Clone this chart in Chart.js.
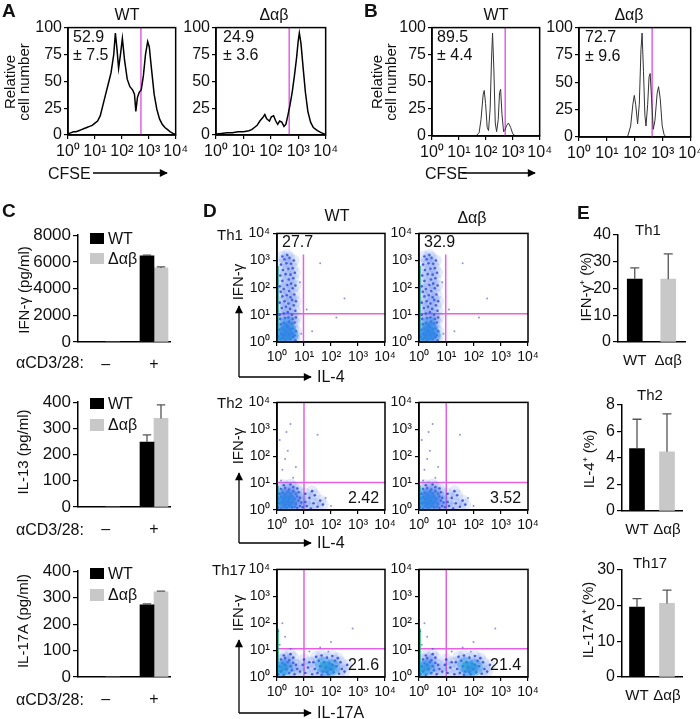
<!DOCTYPE html>
<html>
<head>
<meta charset="utf-8">
<script src="https://cdn.jsdelivr.net/npm/chart.js@4.4.1/dist/chart.umd.min.js"></script>
<style>
  body { margin: 0; background: #fff; }
  #fig { position: relative; width: 700px; height: 719px; overflow: hidden; }
  #fig canvas { position: absolute; }
  #ov { position: absolute; left: 0; top: 0; z-index: 10; pointer-events: none; }
</style>
</head>
<body>
<div id="fig">
<svg id="ov" width="700" height="719" font-family="'Liberation Sans', Arial, sans-serif" fill="#111" font-size="16">
  <defs>
    <marker id="ah" viewBox="0 0 10 10" refX="9" refY="5" markerUnits="userSpaceOnUse" markerWidth="9" markerHeight="8" orient="auto">
      <path d="M0,0 L10,5 L0,10 z" fill="#000"/>
    </marker>
  </defs>
  <g font-weight="bold" font-size="19">
    <text x="2" y="17">A</text>
    <text x="364" y="17">B</text>
    <text x="2" y="217">C</text>
    <text x="203" y="217">D</text>
    <text x="577" y="219">E</text>
  </g>
  <!-- A / B -->
  <g text-anchor="middle">
    <text x="127" y="20">WT</text>
    <text x="274" y="20">Δαβ</text>
    <text x="496" y="20">WT</text>
    <text x="629" y="20">Δαβ</text>
  </g>
  <text x="73" y="42">52.9</text><text x="73" y="60">± 7.5</text>
  <text x="223" y="42">24.9</text><text x="223" y="60">± 3.6</text>
  <text x="437" y="42">89.5</text><text x="437" y="60">± 4.4</text>
  <text x="585" y="42">72.7</text><text x="585" y="61">± 9.6</text>
  <g font-size="15" text-anchor="middle">
    <text transform="translate(15,82) rotate(-90)">Relative</text>
    <text transform="translate(29,82) rotate(-90)">cell number</text>
    <text transform="translate(382,82) rotate(-90)">Relative</text>
    <text transform="translate(396,82) rotate(-90)">cell number</text>
  </g>
  <text x="48" y="179">CFSE</text>
  <text x="425" y="179">CFSE</text>
  <g stroke="#000" stroke-width="1.3" marker-end="url(#ah)">
    <line x1="93" y1="173" x2="167" y2="173"/>
    <line x1="462" y1="173" x2="535" y2="173"/>
  </g>
  <!-- C -->
  <g font-size="15" text-anchor="middle">
    <text transform="translate(29,290) rotate(-90)">IFN-γ (pg/ml)</text>
    <text transform="translate(28,452) rotate(-90)">IL-13 (pg/ml)</text>
    <text transform="translate(28,621) rotate(-90)">IL-17A (pg/ml)</text>
  </g>
  <rect x="90" y="233" width="14" height="11" fill="#000"/><text x="108" y="244">WT</text>
  <rect x="90" y="253" width="14" height="11" fill="#c8c8c8"/><text x="108" y="264">Δαβ</text>
  <rect x="90" y="398" width="14" height="11" fill="#000"/><text x="108" y="409">WT</text>
  <rect x="90" y="419" width="14" height="12" fill="#c8c8c8"/><text x="108" y="430">Δαβ</text>
  <rect x="90" y="568" width="14" height="11" fill="#000"/><text x="108" y="579">WT</text>
  <rect x="90" y="589" width="14" height="12" fill="#c8c8c8"/><text x="108" y="600">Δαβ</text>
  <text x="16" y="368">αCD3/28:</text>
  <text x="16" y="535">αCD3/28:</text>
  <text x="16" y="705">αCD3/28:</text>
  <!-- D -->
  <g text-anchor="middle">
    <text x="337" y="221">WT</text>
    <text x="472" y="223">Δαβ</text>
  </g>
  <g font-size="15">
    <text x="217" y="240">Th1</text>
    <text x="217" y="408">Th2</text>
    <text x="212" y="575">Th17</text>
  </g>
  <text x="282" y="247">27.7</text><text x="424" y="247">32.9</text>
  <text x="348" y="503">2.42</text><text x="490" y="503">3.52</text>
  <text x="348" y="670">21.6</text><text x="490" y="670">21.4</text>
  <g font-size="15" text-anchor="middle">
    <text transform="translate(243,282) rotate(-90)">IFN-γ</text>
    <text transform="translate(243,446) rotate(-90)">IFN-γ</text>
    <text transform="translate(243,613) rotate(-90)">IFN-γ</text>
  </g>
  <g stroke="#000" stroke-width="1.3" marker-end="url(#ah)">
    <line x1="239" y1="377" x2="239" y2="306"/><line x1="239" y1="377" x2="311" y2="377"/>
    <line x1="239" y1="543" x2="239" y2="473"/><line x1="239" y1="543" x2="311" y2="543"/>
    <line x1="239" y1="713" x2="239" y2="640"/><line x1="239" y1="713" x2="311" y2="713"/>
  </g>
  <text x="317" y="382">IL-4</text>
  <text x="317" y="548">IL-4</text>
  <text x="317" y="718">IL-17A</text>
  <!-- E -->
  <g font-size="15" text-anchor="middle">
    <text x="648" y="235">Th1</text>
    <text x="650" y="400">Th2</text>
    <text x="650" y="568">Th17</text>
    <text transform="translate(591,287) rotate(-90)">IFN-γ⁺ (%)</text>
    <text transform="translate(594,459) rotate(-90)">IL-4⁺ (%)</text>
    <text transform="translate(593,620) rotate(-90)">IL-17A⁺ (%)</text>
  </g>
</svg>
</div>
<script>
// ---------- values ----------
const logTicks = [0, 1, 2, 3, 4];
const supDigits = ['⁰', '¹', '²', '³', '⁴'];
const histTicks = [0, 25, 50, 75, 100];

// CFSE histograms: [log10 CFSE, relative cell number]
const cfseA_WT = [[0,1],[0.1,2],[0.2,3],[0.3,3],[0.4,4],[0.5,5],[0.6,6],[0.7,7],[0.8,8],[0.9,9],[1.0,11],
  [1.1,13],[1.2,18],[1.3,28],[1.4,38],[1.5,48],[1.6,58],[1.7,75],[1.76,95],[1.82,80],[1.88,62],[1.95,75],
  [2.02,90],[2.1,70],[2.2,52],[2.3,45],[2.4,42],[2.47,38],[2.52,22],[2.58,35],[2.65,40],[2.72,42],[2.8,55],
  [2.88,75],[2.96,87],[3.02,82],[3.1,62],[3.2,38],[3.3,24],[3.4,15],[3.5,10],[3.6,7],[3.7,5],[3.8,3],[3.9,1.5],[4,0.5]];
const cfseA_KO = [[0,1],[0.2,1.5],[0.4,2],[0.6,2],[0.8,3],[1.0,3],[1.2,4],[1.3,5],[1.4,7],[1.5,9],[1.6,13],
  [1.7,16],[1.78,19],[1.85,15],[1.95,13],[2.02,17],[2.1,18],[2.18,13],[2.25,10],[2.32,13],[2.4,12],[2.48,8],
  [2.55,10],[2.62,18],[2.7,28],[2.78,40],[2.86,55],[2.94,72],[3.0,88],[3.04,95],[3.1,85],[3.18,62],[3.26,40],
  [3.35,22],[3.45,12],[3.55,7],[3.7,4],[3.85,2],[4,0.5]];
const cfseB_WT = [[0,0],[1.5,0],[1.65,0.5],[1.75,3],[1.82,15],[1.9,38],[1.94,42],[1.99,30],[2.05,8],[2.1,5],
  [2.16,25],[2.21,70],[2.25,95],[2.3,60],[2.35,12],[2.4,4],[2.46,15],[2.51,40],[2.55,43],[2.6,20],[2.66,4],
  [2.7,5],[2.78,10],[2.84,12],[2.92,8],[3.0,2],[3.1,0],[4,0]];
const cfseB_KO = [[0,0],[1.7,0],[1.75,1],[1.85,10],[1.93,30],[1.98,38],[2.03,30],[2.1,12],[2.16,30],[2.22,80],
  [2.26,95],[2.31,60],[2.36,20],[2.4,10],[2.46,30],[2.51,55],[2.55,58],[2.6,35],[2.66,7],[2.72,15],[2.8,40],
  [2.85,46],[2.91,35],[2.98,10],[3.05,2],[3.12,0],[4,0]];
const cfseGates = [2.71, 2.67, 2.72, 2.62];   // A WT, A Δαβ, B WT, B Δαβ

// C: cytokines in supernatant (pg/ml)
const cTreatLabels = ['–', '+'];
const cTreatX = [0.3, 0.826];
const ifngWT = [0, 6450], ifngKO = [0, 5550], ifngErrWT = [0, 50], ifngErrKO = [0, 80];
const il13WT = [0, 248], il13KO = [0, 338], il13ErrWT = [0, 27], il13ErrKO = [0, 52];
const il17WT = [0, 273], il17KO = [0, 322], il17ErrWT = [0, 3], il17ErrKO = [0, 3];

// D: dot plots, [log10 x, log10 y]; cloud = main population, sparse = stray events
const th1Cloud = [[0.12,0.1],[0.2,0.15],[0.3,0.08],[0.4,0.12],[0.5,0.1],[0.6,0.18],[0.68,0.06],
  [0.15,0.3],[0.25,0.25],[0.35,0.35],[0.45,0.28],[0.55,0.32],[0.65,0.25],[0.05,0.2],
  [0.1,0.45],[0.2,0.5],[0.3,0.42],[0.4,0.55],[0.5,0.48],[0.6,0.5],[0.7,0.4],
  [0.15,0.65],[0.25,0.7],[0.35,0.62],[0.45,0.75],[0.55,0.68],[0.65,0.72],
  [0.12,0.85],[0.3,0.88],[0.42,0.9],[0.58,0.85],[0.7,0.9],
  [0.1,1.0],[0.25,1.05],[0.4,1.1],[0.55,1.0],[0.68,1.15],
  [0.18,1.25],[0.33,1.3],[0.48,1.22],[0.62,1.35],
  [0.1,1.45],[0.28,1.5],[0.42,1.42],[0.56,1.55],[0.7,1.5],
  [0.2,1.68],[0.36,1.72],[0.5,1.65],[0.64,1.75],[0.14,1.85],[0.45,1.88],
  [0.25,1.95],[0.58,1.98],[0.1,2.05],[0.38,2.1],[0.52,2.15],[0.68,2.08],
  [0.2,2.25],[0.44,2.3],[0.6,2.35],[0.12,2.45],[0.32,2.5],[0.5,2.48],[0.66,2.55],
  [0.22,2.65],[0.42,2.7],[0.58,2.72],[0.15,2.85],[0.35,2.9],[0.52,2.88],
  [0.28,3.05],[0.46,3.1],[0.62,3.0],[0.38,3.2],[0.2,3.15]];
const th1Sparse = [[1.6,2.9],[2.5,1.6],[1.3,0.4],[2.2,0.9],[1.1,1.2],[0.9,0.3],[0.85,2.2]];
const th1Core = [[0.28,0.3],[0.42,0.45],[0.35,0.62],[0.22,0.18],[0.5,0.25]];
const th1Pile = [[0.02,0],[0.02,2.8]];

const th2Cloud = [[0.05,0.1],[0.15,0.05],[0.25,0.12],[0.35,0.08],[0.45,0.15],[0.55,0.1],[0.65,0.12],[0.75,0.08],[0.85,0.15],
  [0.1,0.25],[0.2,0.3],[0.3,0.22],[0.4,0.32],[0.5,0.25],[0.6,0.3],[0.7,0.22],[0.8,0.35],[0.9,0.28],
  [0.05,0.42],[0.15,0.48],[0.25,0.4],[0.35,0.5],[0.45,0.45],[0.55,0.52],[0.65,0.42],[0.75,0.5],[0.85,0.45],
  [0.1,0.6],[0.2,0.65],[0.3,0.58],[0.4,0.68],[0.5,0.62],[0.6,0.7],[0.7,0.6],[0.8,0.66],
  [0.15,0.78],[0.3,0.82],[0.45,0.76],[0.6,0.85],[0.75,0.8],[0.25,0.92],[0.5,0.95],
  [0.95,0.1],[1.05,0.3],[1.1,0.15],[1.2,0.45],[1.25,0.05],[1.35,0.25],[1.4,0.55],[1.5,0.12],[1.6,0.35],
  [1.7,0.2],[1.05,0.6],[1.3,0.7]];
const th2Sparse = [[1.8,0.45],[2.0,0.15],[0.2,1.5],[0.4,2.2],[0.1,2.6],[0.6,1.2],[0.3,1.9],[1.5,2.8],
  [0.5,3.2],[0.15,1.1],[0.7,1.6],[0.35,2.9]];
const th2Core = [[0.35,0.35],[0.5,0.45],[0.25,0.5],[0.45,0.22],[0.2,0.25]];
const th2Pile = [[0.02,0],[0.02,0.9]];

const th17Cloud = [[0.05,0.1],[0.15,0.2],[0.25,0.08],[0.35,0.3],[0.45,0.15],[0.55,0.25],[0.65,0.1],[0.75,0.3],
  [0.1,0.4],[0.2,0.5],[0.3,0.45],[0.4,0.55],[0.5,0.4],[0.6,0.52],[0.7,0.45],
  [0.15,0.65],[0.3,0.7],[0.45,0.62],[0.6,0.72],[0.25,0.8],[0.5,0.85],
  [0.85,0.2],[0.95,0.45],[1.05,0.15],[1.15,0.35],[1.0,0.65],[1.2,0.55],
  [1.3,0.1],[1.4,0.3],[1.5,0.15],[1.6,0.4],[1.7,0.2],[1.8,0.35],[1.9,0.1],[2.0,0.3],[2.1,0.18],[2.2,0.4],
  [2.3,0.12],[2.4,0.3],[1.35,0.55],[1.55,0.6],[1.75,0.55],[1.95,0.5],[2.15,0.6],[2.35,0.55],
  [1.45,0.75],[1.65,0.8],[1.85,0.72],[2.05,0.78],[2.25,0.7],[1.85,0.18],[2.05,0.45],[1.65,0.08],[2.5,0.2],[2.6,0.45]];
const th17Sparse = [[0.1,1.2],[0.3,1.5],[1.6,1.1],[2.0,1.3],[0.5,1.05],[1.2,0.95],[2.8,1.8],[0.2,2.0],[1.9,0.95],[0.05,1.7]];
const th17Core = [[0.12,0.3],[0.3,0.35],[1.85,0.3],[2.05,0.35],[1.7,0.45]];
const th17Pile = [[0.02,0],[0.02,1.8]];

// quadrant gates: vertical at x, up to yTop; horizontal at y
const dGates = [{x: 0.98, yTop: 3.22, y: 1.04}, {x: 1.0, yTop: 4, y: 1.02}, {x: 1.0, yTop: 4, y: 1.05}];

// E: % positive cells
const eGroups = ['WT', 'Δαβ'];
const ifngPct = [23.4, 23.4], ifngPctErr = [4.2, 9.4];
const il4Pct = [4.7, 4.45], il4PctErr = [2.2, 2.85];
const il17Pct = [19.5, 20.55], il17PctErr = [2.4, 3.7];

// ---------- drawing ----------
const WT_COLOR = '#000';
const KO_COLOR = '#c8c8c8';
const GATE = '#e660e6';

Chart.defaults.font.family = "'Liberation Sans', Arial, sans-serif";
Chart.defaults.color = '#111';
Chart.defaults.animation = false;
Chart.defaults.plugins.legend.display = false;
Chart.defaults.plugins.tooltip.enabled = false;

const fig = document.getElementById('fig');

// box = [left, top, right, bottom] of the plot area in page pixels
// pad = [y axis width, x axis height, top padding, right padding]
function makeChart(box, pad, config) {
  const [l, t, r, b] = box;
  const [yW, xH, pt, pr] = pad;
  const cv = document.createElement('canvas');
  cv.width = (r - l) + yW + pr;
  cv.height = (b - t) + pt + xH;
  cv.style.left = (l - yW) + 'px';
  cv.style.top = (t - pt) + 'px';
  fig.appendChild(cv);
  config.options.responsive = false;
  config.options.layout = { padding: { top: pt, right: pr, left: 0, bottom: 0 } };
  config.options.scales.x.afterFit = s => { s.height = xH; };
  config.options.scales.y.afterFit = s => { s.width = yW; };
  return new Chart(cv, config);
}

// full box around plot area
const framePlugin = {
  id: 'frame',
  afterDraw(chart) {
    const a = chart.chartArea, ctx = chart.ctx;
    ctx.save();
    ctx.strokeStyle = '#000';
    ctx.lineWidth = 1.5;
    ctx.strokeRect(a.left, a.top, a.right - a.left, a.bottom - a.top);
    ctx.restore();
  }
};

// upper error bars from dataset.errors
const errorBars = {
  id: 'errorBars',
  afterDatasetsDraw(chart) {
    const ctx = chart.ctx, y = chart.scales.y;
    chart.data.datasets.forEach((ds, i) => {
      if (!ds.errors) return;
      chart.getDatasetMeta(i).data.forEach((bar, j) => {
        const raw = ds.data[j];
        const v = raw !== null && typeof raw === 'object' ? raw.y : raw;
        const e = ds.errors[j];
        if (!v || !e) return;
        const top = y.getPixelForValue(v + e);
        const half = bar.width * 0.3;
        ctx.save();
        ctx.strokeStyle = '#555';
        ctx.lineWidth = 1.3;
        ctx.beginPath();
        ctx.moveTo(bar.x, bar.y);
        ctx.lineTo(bar.x, top);
        ctx.moveTo(bar.x - half, top);
        ctx.lineTo(bar.x + half, top);
        ctx.stroke();
        ctx.restore();
      });
    });
  }
};

const pts = arr => arr.map(p => ({ x: p[0], y: p[1] }));

function tickGrid(len) {
  return { display: true, drawOnChartArea: false, drawTicks: true, tickLength: len, color: '#000', lineWidth: 1.2 };
}
const axisBorder = { display: true, color: '#000', width: 1.5 };

function logAxis(size) {
  return {
    type: 'linear', min: 0, max: 4,
    afterBuildTicks: s => { s.ticks = logTicks.map(v => ({ value: v })); },
    ticks: { callback: (v, i) => '10' + supDigits[i], font: { size }, color: '#111', padding: 3, maxRotation: 0, autoSkip: false },
    grid: tickGrid(4),
    border: axisBorder
  };
}

function histChart(box, data, gate, thin) {
  return makeChart(box, [40, 26, 9, 14], {
    type: 'scatter',
    data: { datasets: [
      { data: pts(data), showLine: true, pointRadius: 0, borderColor: thin ? '#333' : '#000', borderWidth: thin ? 1 : 1.5, tension: 0 },
      { data: [{ x: gate, y: 0 }, { x: gate, y: 100 }], showLine: true, pointRadius: 0, borderColor: GATE, borderWidth: 1.5 }
    ] },
    options: { scales: {
      x: logAxis(16),
      y: {
        min: 0, max: 100,
        afterBuildTicks: s => { s.ticks = histTicks.map(v => ({ value: v })); },
        ticks: { font: { size: 16 }, color: '#111', padding: 2 },
        grid: tickGrid(4), border: axisBorder
      }
    } },
    plugins: [framePlugin]
  });
}

function cytoChart(box, wt, ko, errWT, errKO, max, step) {
  return makeChart(box, [52, 30, 9, 4], {
    type: 'bar',
    data: { datasets: [
      { data: cTreatX.map((x, i) => ({ x, y: wt[i] })), backgroundColor: WT_COLOR, barThickness: 14, errors: errWT },
      { data: cTreatX.map((x, i) => ({ x, y: ko[i] })), backgroundColor: KO_COLOR, barThickness: 14, errors: errKO }
    ] },
    options: { scales: {
      x: {
        type: 'linear', min: 0, max: 1, offset: false,
        afterBuildTicks: s => { s.ticks = cTreatX.map(v => ({ value: v })); },
        ticks: { callback: (v, i) => cTreatLabels[i], font: { size: 16 }, color: '#111', padding: 13, maxRotation: 0, autoSkip: false },
        grid: { display: false, drawTicks: false }, border: axisBorder
      },
      y: {
        min: 0, max,
        ticks: { stepSize: step, callback: v => String(v), font: { size: 17 }, color: '#111', padding: 2 },
        grid: tickGrid(5), border: axisBorder
      }
    } },
    plugins: [errorBars]
  });
}

function dotChart(box, cloud, sparse, core, pile, gate) {
  return makeChart(box, [32, 26, 9, 14], {
    type: 'scatter',
    data: { datasets: [
      // soft density haze behind the single events of the main population
      { data: pts(cloud), pointRadius: 6, pointBackgroundColor: 'rgba(70,110,235,0.14)', pointBorderWidth: 0 },
      { data: pts(core), pointRadius: 8, pointBackgroundColor: 'rgba(0,190,225,0.4)', pointBorderWidth: 0 },
      { data: pts(cloud), pointRadius: 1.3, pointBackgroundColor: 'rgba(35,55,210,0.85)', pointBorderWidth: 0 },
      { data: pts(sparse), pointRadius: 1, pointBackgroundColor: 'rgba(60,80,210,0.6)', pointBorderWidth: 0 },
      { data: pts(core), pointRadius: 3.5, pointBackgroundColor: 'rgba(40,200,120,0.55)', pointBorderWidth: 0 },
      { data: pts(pile), showLine: true, pointRadius: 0, borderColor: 'rgba(30,190,110,0.9)', borderWidth: 2.5 },
      { data: [{ x: gate.x, y: 0 }, { x: gate.x, y: gate.yTop }], showLine: true, pointRadius: 0, borderColor: GATE, borderWidth: 1.5 },
      { data: [{ x: 0, y: gate.y }, { x: 4, y: gate.y }], showLine: true, pointRadius: 0, borderColor: GATE, borderWidth: 1.5 }
    ] },
    options: { scales: { x: logAxis(14), y: logAxis(14) } },
    plugins: [framePlugin]
  });
}

function pctChart(box, vals, errs, max, step) {
  return makeChart(box, [30, 30, 9, 14], {
    type: 'bar',
    data: { labels: eGroups, datasets: [
      { data: vals, backgroundColor: [WT_COLOR, KO_COLOR], barThickness: 15, errors: errs }
    ] },
    options: { scales: {
      x: {
        ticks: { font: { size: 15 }, color: '#111', padding: 10, maxRotation: 0, minRotation: 0, autoSkip: false },
        grid: { display: false, drawTicks: false }, border: axisBorder
      },
      y: {
        min: 0, max, ticks: { stepSize: step, font: { size: 16 }, color: '#111', padding: 2 },
        grid: tickGrid(5), border: axisBorder
      }
    } },
    plugins: [errorBars]
  });
}

// A and B
histChart([68, 25, 177, 135], cfseA_WT, cfseGates[0], false);
histChart([216, 25, 327, 135], cfseA_KO, cfseGates[1], false);
histChart([432, 25, 541, 136], cfseB_WT, cfseGates[2], true);
histChart([579, 25, 692, 137], cfseB_KO, cfseGates[3], true);

// C
cytoChart([78, 232, 170, 342], ifngWT, ifngKO, ifngErrWT, ifngErrKO, 8000, 2000);
cytoChart([78, 399, 170, 507], il13WT, il13KO, il13ErrWT, il13ErrKO, 400, 100);
cytoChart([78, 568, 170, 677], il17WT, il17KO, il17ErrWT, il17ErrKO, 400, 100);

// D
dotChart([277, 231, 385, 342], th1Cloud, th1Sparse, th1Core, th1Pile, dGates[0]);
dotChart([419, 231, 528, 342], th1Cloud, th1Sparse, th1Core, th1Pile, dGates[0]);
dotChart([277, 400, 385, 510], th2Cloud, th2Sparse, th2Core, th2Pile, dGates[1]);
dotChart([419, 400, 528, 510], th2Cloud, th2Sparse, th2Core, th2Pile, dGates[1]);
dotChart([277, 567, 385, 677], th17Cloud, th17Sparse, th17Core, th17Pile, dGates[2]);
dotChart([419, 567, 528, 677], th17Cloud, th17Sparse, th17Core, th17Pile, dGates[2]);

// E
pctChart([618, 232, 685, 342], ifngPct, ifngPctErr, 40, 10);
pctChart([622, 402, 682, 511], il4Pct, il4PctErr, 8, 2);
pctChart([622, 567, 682, 677], il17Pct, il17PctErr, 30, 10);
</script>
</body>
</html>
